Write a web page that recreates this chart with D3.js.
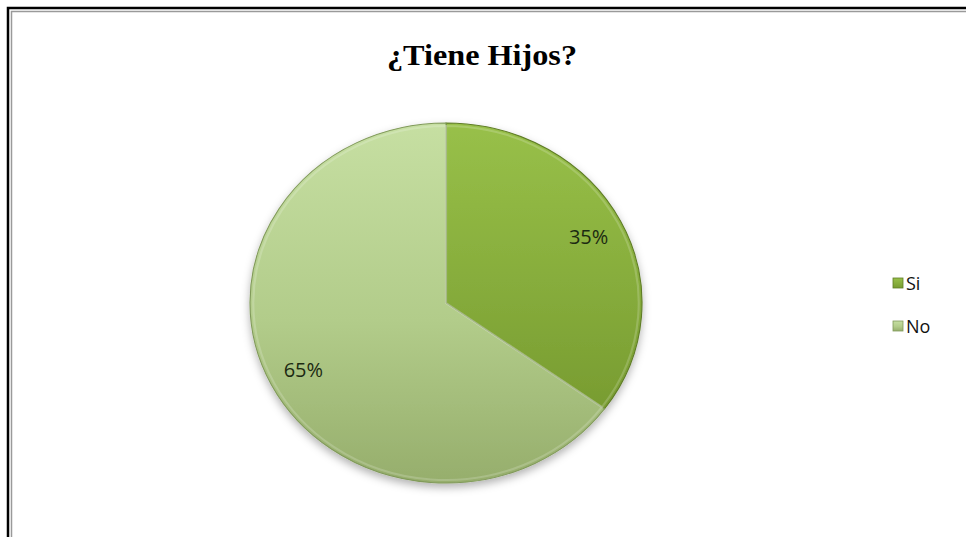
<!DOCTYPE html>
<html>
<head>
<meta charset="utf-8">
<script src="https://cdn.jsdelivr.net/npm/d3@7"></script>
<style>
  html, body { margin: 0; padding: 0; background: #fff; }
  svg { display: block; }
</style>
</head>
<body>
<svg width="966" height="537"></svg>
<script>
const categories = ["Si", "No"]
const values = [35, 65]
const labels = ["35%", "65%"]

const svg = d3.select("svg")

const cx = 446, cy = 303
const r = 180
const sx = 196 / 180

// frame (runs off the right and bottom edge like the screenshot)
svg.append("rect")
    .attr("x", 8).attr("y", 8)
    .attr("width", 1000).attr("height", 600)
    .attr("fill", "none")
    .attr("stroke", "#000")
    .attr("stroke-width", 2.5)
svg.append("rect")
    .attr("x", 11.5).attr("y", 11.5)
    .attr("width", 1000).attr("height", 600)
    .attr("fill", "none")
    .attr("stroke", "#9a9a9a")
    .attr("stroke-width", 1.5)

const defs = svg.append("defs")

const gradStops = {
    Si: [["0%", "#98c049"], ["55%", "#87ad3c"], ["100%", "#789c31"]],
    No: [["0%", "#c6dfa2"], ["55%", "#b2cc8a"], ["100%", "#96ae6c"]]
}
categories.forEach(c => {
    const g = defs.append("linearGradient")
        .attr("id", "grad-" + c)
        .attr("x1", 0).attr("y1", 0).attr("x2", 0).attr("y2", 1)
    gradStops[c].forEach(s => {
        g.append("stop").attr("offset", s[0]).attr("stop-color", s[1])
    })
})

const shadow = defs.append("filter")
    .attr("id", "shadow")
    .attr("x", "-20%").attr("y", "-20%")
    .attr("width", "140%").attr("height", "140%")
shadow.append("feDropShadow")
    .attr("dx", 0).attr("dy", 4)
    .attr("stdDeviation", 4)
    .attr("flood-color", "#000")
    .attr("flood-opacity", 0.3)

const edgeColor = { Si: "#5f7d25", No: "#819a5a" }

const pie = d3.pie().sort(null).value(d => d)
const arcs = pie(values)
const arc = d3.arc().innerRadius(0).outerRadius(r)
const labelArc = d3.arc().innerRadius(147).outerRadius(147)

const pieGroup = svg.append("g")
    .attr("transform", `translate(${cx},${cy}) scale(${sx},1)`)
    .attr("filter", "url(#shadow)")

pieGroup.selectAll("path.slice")
    .data(arcs)
    .enter()
    .append("path")
    .attr("class", "slice")
    .attr("d", arc)
    .attr("fill", (d, i) => `url(#grad-${categories[i]})`)
    .attr("stroke", (d, i) => edgeColor[categories[i]])
    .attr("stroke-width", 1)

// faint highlight bevel along the slice edges
pieGroup.selectAll("path.bevel")
    .data(arcs)
    .enter()
    .append("path")
    .attr("class", "bevel")
    .attr("d", d3.arc().innerRadius(0).outerRadius(r - 3))
    .attr("fill", "none")
    .attr("stroke", "#fff")
    .attr("stroke-opacity", 0.18)
    .attr("stroke-width", 2)

svg.selectAll("text.pct")
    .data(arcs)
    .enter()
    .append("text")
    .attr("class", "pct")
    .attr("x", d => cx + sx * labelArc.centroid(d)[0])
    .attr("y", d => cy + labelArc.centroid(d)[1])
    .attr("text-anchor", "middle")
    .attr("dominant-baseline", "central")
    .attr("font-family", "'Open Sans', 'DejaVu Sans', sans-serif")
    .attr("font-size", 20)
    .attr("fill", "#1c2a12")
    .text((d, i) => labels[i])

// title
svg.append("text")
    .attr("x", 482)
    .attr("y", 65)
    .attr("text-anchor", "middle")
    .attr("font-family", "'Liberation Serif', 'Times New Roman', serif")
    .attr("font-weight", "bold")
    .attr("font-size", 30)
    .attr("textLength", 190)
    .attr("lengthAdjust", "spacingAndGlyphs")
    .attr("fill", "#000")
    .text("¿Tiene Hijos?")

// legend
const legendY = d3.scalePoint().domain(categories).range([283, 326])
const legend = svg.selectAll("g.legend")
    .data(categories)
    .enter()
    .append("g")
    .attr("class", "legend")
    .attr("transform", d => `translate(893,${legendY(d)})`)

legend.append("rect")
    .attr("x", 0).attr("y", -5)
    .attr("width", 10).attr("height", 10)
    .attr("fill", d => `url(#grad-${d})`)
    .attr("stroke", d => edgeColor[d])
    .attr("stroke-width", 0.8)

legend.append("text")
    .attr("x", 13)
    .attr("y", 0)
    .attr("dominant-baseline", "central")
    .attr("font-family", "'Open Sans', 'DejaVu Sans', sans-serif")
    .attr("font-size", 18)
    .attr("fill", "#111")
    .text(d => d)
</script>
</body>
</html>
